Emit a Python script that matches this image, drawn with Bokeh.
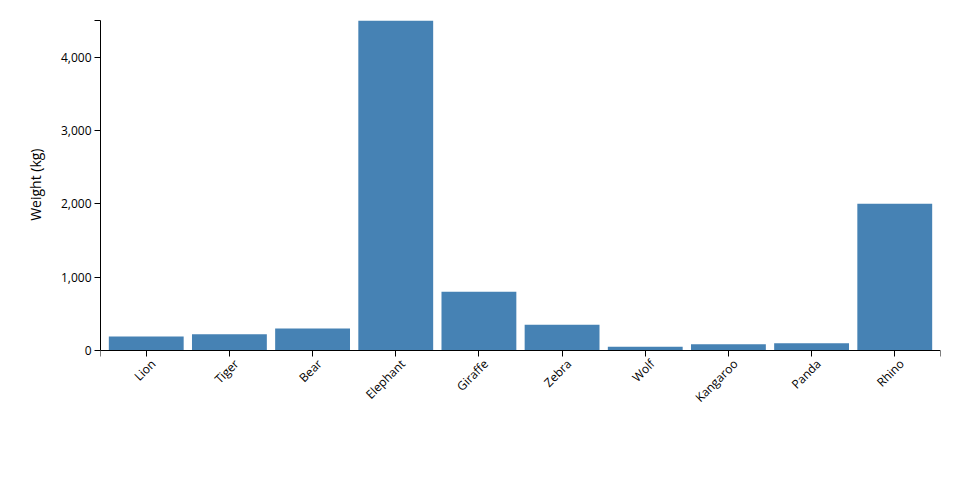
import math
import numpy as np
from bokeh.plotting import figure
from bokeh.core.properties import value
from bokeh.models import Range1d, FixedTicker, NumeralTickFormatter, ColumnDataSource, LabelSet, Title
from bokeh.embed import file_html
from bokeh.resources import INLINE

animals = ["Lion", "Tiger", "Bear", "Elephant", "Giraffe", "Zebra", "Wolf", "Kangaroo", "Panda", "Rhino"]
weights = [190, 220, 300, 4500, 800, 350, 50, 85, 100, 2000]
y_ticks = [0, 1000, 2000, 3000, 4000]
y_max = 4500

n = len(animals)
pos = [i + 0.5 for i in range(n)]
src = ColumnDataSource(dict(x=pos, top=weights, name=animals, base=[0] * n))

# frame extends below the baseline so the rotated category labels are inside it
plot_h = 330   # pixels between 0 and y_max
below_h = 130  # pixels of frame below the baseline
p = figure(width=960, height=500, output_backend="svg", toolbar_location=None,
           x_range=Range1d(-0.05, n + 0.05),
           y_range=Range1d(-y_max * below_h / plot_h, y_max),
           min_border_left=100, min_border_right=20, min_border_top=20, min_border_bottom=20)
p.outline_line_color = None
p.xgrid.visible = False
p.ygrid.visible = False

p.vbar(x="x", top="top", bottom=0, width=0.9, source=src, fill_color="#4682b4", line_color=None)

FONT = "Open Sans"
# x axis, drawn at y = 0
xa = p.xaxis[0]
xa.fixed_location = 0
xa.ticker = FixedTicker(ticks=[-0.05] + pos + [n + 0.05])
xa.major_label_overrides = {t: "" for t in [-0.05] + pos + [n + 0.05]}
xa.minor_tick_line_color = None
xa.major_tick_in = 0
xa.major_tick_out = 6
xa.axis_line_color = "#000000"
xa.major_tick_line_color = "#000000"

labels = LabelSet(x="x", y="base", text="name", source=src, angle=math.pi / 4,
                  text_align="right", text_baseline="middle", x_offset=7, y_offset=-11,
                  text_font=value(FONT), text_font_size=value("12px"), text_color="#000000",
                  level="overlay")
p.add_layout(labels)

ya = p.yaxis[0]
ya.bounds = (0, y_max)
ya.ticker = FixedTicker(ticks=y_ticks + [y_max])
ya.major_label_overrides = {y_max: ""}
ya.formatter = NumeralTickFormatter(format="0,0")
ya.minor_tick_line_color = None
ya.major_tick_in = 0
ya.major_tick_out = 6
ya.major_label_standoff = 3
ya.major_label_text_font = FONT
ya.major_label_text_font_size = "12px"
ya.major_label_text_color = "#000000"
ya.axis_line_color = "#000000"
ya.major_tick_line_color = "#000000"

ylabel = Title(text="Weight (kg)", align="right", offset=128, vertical_align="middle",
               text_font=FONT, text_font_size="14px", text_font_style="normal",
               text_color="#000000", standoff=24)
p.add_layout(ylabel, "left")

open("out.html", "w").write(file_html(p, INLINE))
